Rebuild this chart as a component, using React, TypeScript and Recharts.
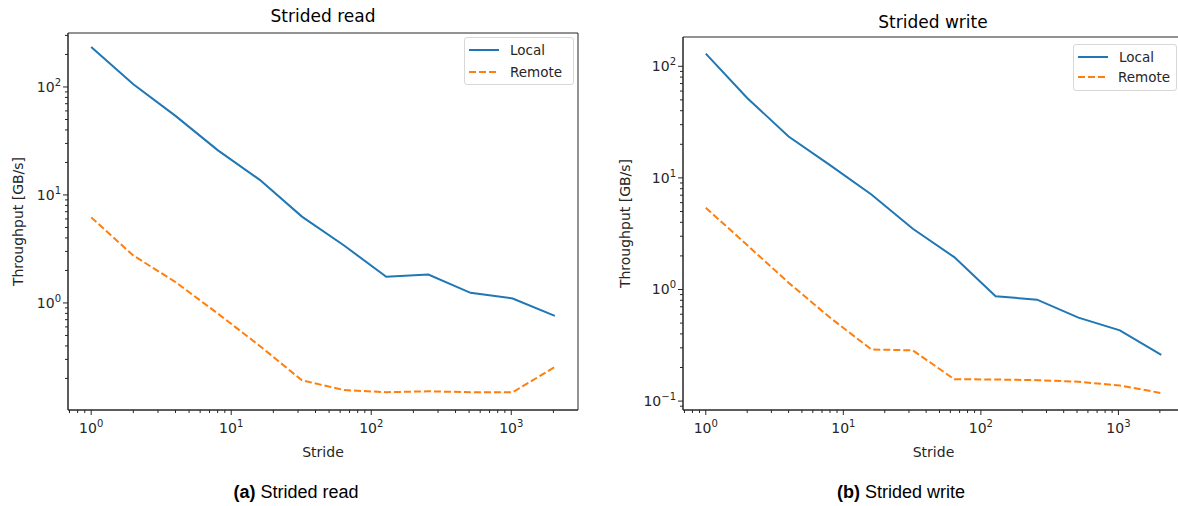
import { LineChart, Line, XAxis, YAxis, ReferenceArea } from 'recharts';

// stride values (powers of two) and measured throughput in GB/s
const strides = [1, 2, 4, 8, 16, 32, 64, 128, 256, 512, 1024, 2048];
const readLocal = [234, 106, 54, 26, 13.8, 6.3, 3.4, 1.75, 1.83, 1.24, 1.1, 0.76];
const readRemote = [6.2, 2.75, 1.56, 0.8, 0.4, 0.192, 0.156, 0.149, 0.152, 0.149, 0.149, 0.255];
const writeLocal = [130, 52, 23.5, 13, 7.1, 3.5, 1.95, 0.87, 0.81, 0.56, 0.43, 0.26];
const writeRemote = [5.4, 2.5, 1.15, 0.56, 0.29, 0.285, 0.157, 0.156, 0.154, 0.149, 0.138, 0.118];

const xMajor = [1, 10, 100, 1000];
const xMinor = [0.7, 0.8, 0.9, 2, 3, 4, 5, 6, 7, 8, 9, 20, 30, 40, 50, 60, 70, 80, 90, 200, 300, 400, 500, 600, 700, 800, 900, 2000];
const readYMajor = [1, 10, 100];
const readYMinor = [0.2, 0.3, 0.4, 0.5, 0.6, 0.7, 0.8, 0.9, 2, 3, 4, 5, 6, 7, 8, 9, 20, 30, 40, 50, 60, 70, 80, 90, 200, 300];
const writeYMajor = [0.1, 1, 10, 100];
const writeYMinor = [0.09, 0.2, 0.3, 0.4, 0.5, 0.6, 0.7, 0.8, 0.9, 2, 3, 4, 5, 6, 7, 8, 9, 20, 30, 40, 50, 60, 70, 80, 90];

const series = [
  { key: 'local', name: 'Local', color: '#1f77b4', dash: undefined },
  { key: 'remote', name: 'Remote', color: '#ff7f0e', dash: '7 3' },
];

const MPL = '"DejaVu Sans", sans-serif';
const TXT = '#262626';
const X_DOMAIN: [number, number] = [0.683, 2997];

const toRows = (local: number[], remote: number[]) =>
  strides.map((s, i) => ({ stride: s, local: local[i], remote: remote[i] }));

const expLabel = (v: number) => {
  const e = Math.round(Math.log10(v));
  return e < 0 ? '\u2212' + Math.abs(e) : String(e);
};

const XTick = (props: any) => {
  const { x, y, payload } = props;
  const major = xMajor.includes(payload.value);
  return (
    <g>
      <line x1={x} x2={x} y1={y} y2={y + (major ? 5 : 3)} stroke={TXT} strokeWidth={1} />
      {major && (
        <text x={x} y={y + 23} textAnchor="middle" fontSize={14} fontFamily={MPL} fill={TXT}>
          <tspan>10</tspan>
          <tspan dy={-6} fontSize={10}>{expLabel(payload.value)}</tspan>
        </text>
      )}
    </g>
  );
};

const makeYTick = (majors: number[]) => (props: any) => {
  const { x, y, payload } = props;
  const major = majors.includes(payload.value);
  return (
    <g>
      <line x1={x} x2={x - (major ? 5 : 3)} y1={y} y2={y} stroke={TXT} strokeWidth={1} />
      {major && (
        <text x={x - 7} y={y + 5} textAnchor="end" fontSize={14} fontFamily={MPL} fill={TXT}>
          <tspan>10</tspan>
          <tspan dy={-6} fontSize={10}>{expLabel(payload.value)}</tspan>
        </text>
      )}
    </g>
  );
};

function LegendBox({ style, gap, pad }: { style: React.CSSProperties; gap: number; pad: string }) {
  return (
    <div
      style={{
        position: 'absolute',
        border: '1px solid #d8d8d8',
        borderRadius: 3,
        background: 'rgba(255,255,255,0.8)',
        padding: pad,
        fontFamily: MPL,
        fontSize: 13.5,
        color: TXT,
        ...style,
      }}
    >
      {series.map((s) => (
        <div key={s.key} style={{ display: 'flex', alignItems: 'center', height: gap }}>
          <svg width={30} height={10} style={{ marginRight: 11 }}>
            <line x1={0} x2={30} y1={5} y2={5} stroke={s.color} strokeWidth={2} strokeDasharray={s.dash} />
          </svg>
          <span>{s.name}</span>
        </div>
      ))}
    </div>
  );
}

function Panel(props: {
  left: number;
  top: number;
  yAxisWidth: number;
  rightMargin: number;
  yDomain: [number, number];
  yTicks: number[];
  yMajor: number[];
  rows: { stride: number; local: number; remote: number }[];
  labelOffset: number;
}) {
  const { left, top, yAxisWidth, rightMargin, yDomain, yTicks, yMajor, rows, labelOffset } = props;
  return (
    <div style={{ position: 'absolute', left, top: 0 }}>
      <LineChart width={600} height={506} data={rows} margin={{ top, right: rightMargin, left: 0, bottom: 46 }}>
        <XAxis
          dataKey="stride"
          type="number"
          scale="log"
          domain={X_DOMAIN}
          allowDataOverflow
          ticks={[...xMajor, ...xMinor].sort((a, b) => a - b)}
          interval={0}
          tickSize={0}
          tickMargin={0}
          tick={<XTick />}
          axisLine={{ stroke: TXT }}
          height={50}
          label={{ value: 'Stride', position: 'insideBottom', offset: 3, fontSize: 14, fontFamily: MPL, fill: TXT }}
        />
        <YAxis
          type="number"
          scale="log"
          domain={yDomain}
          allowDataOverflow
          ticks={yTicks}
          interval={0}
          tickSize={0}
          tickMargin={0}
          tick={makeYTick(yMajor)}
          axisLine={{ stroke: TXT }}
          width={yAxisWidth}
          label={{
            value: 'Throughput [GB/s]',
            angle: -90,
            position: 'insideLeft',
            offset: labelOffset,
            fontSize: 14,
            fontFamily: MPL,
            fill: TXT,
            style: { textAnchor: 'middle' },
          }}
        />
        {/* axes frame (top and right spines) */}
        <ReferenceArea
          x1={X_DOMAIN[0]}
          x2={X_DOMAIN[1]}
          y1={yDomain[0]}
          y2={yDomain[1]}
          fill="none"
          stroke={TXT}
          strokeWidth={1}
          fillOpacity={0}
        />
        {series.map((s) => (
          <Line
            key={s.key}
            dataKey={s.key}
            name={s.name}
            stroke={s.color}
            strokeWidth={2}
            strokeDasharray={s.dash}
            dot={false}
            type="linear"
            isAnimationActive={false}
          />
        ))}
      </LineChart>
    </div>
  );
}

export default function App() {
  const title: React.CSSProperties = { position: 'absolute', fontFamily: MPL, fontSize: 17, color: '#000', transform: 'translate(-50%, -50%)', whiteSpace: 'nowrap' };
  const caption: React.CSSProperties = { position: 'absolute', fontFamily: '"Liberation Sans", Arial, sans-serif', fontSize: 18, color: '#000', transform: 'translate(-50%, -50%)', whiteSpace: 'nowrap' };
  return (
    <div style={{ position: 'fixed', left: 0, top: 0, width: 1178, height: 506, overflow: 'hidden', background: '#fff' }}>
      <Panel
        left={0}
        top={33}
        yAxisWidth={68}
        rightMargin={22}
        yDomain={[0.102, 316]}
        yTicks={[...readYMajor, ...readYMinor].sort((a, b) => a - b)}
        yMajor={readYMajor}
        rows={toRows(readLocal, readRemote)}
        labelOffset={18}
      />
      <Panel
        left={600}
        top={37}
        yAxisWidth={83}
        rightMargin={16}
        yDomain={[0.0832, 183]}
        yTicks={[...writeYMajor, ...writeYMinor].sort((a, b) => a - b)}
        yMajor={writeYMajor}
        rows={toRows(writeLocal, writeRemote)}
        labelOffset={25}
      />
      <div style={{ ...title, left: 323, top: 16 }}>Strided read</div>
      <div style={{ ...title, left: 933, top: 22 }}>Strided write</div>
      <LegendBox style={{ left: 464, top: 37, width: 98 }} gap={22} pad="1px 6px 1px 4px" />
      <LegendBox style={{ left: 1073, top: 44, width: 92 }} gap={20} pad="2px 6px 3px 4px" />
      <div style={{ ...caption, left: 296, top: 492 }}>
        <b>(a)</b> Strided read
      </div>
      <div style={{ ...caption, left: 901, top: 492 }}>
        <b>(b)</b> Strided write
      </div>
    </div>
  );
}
